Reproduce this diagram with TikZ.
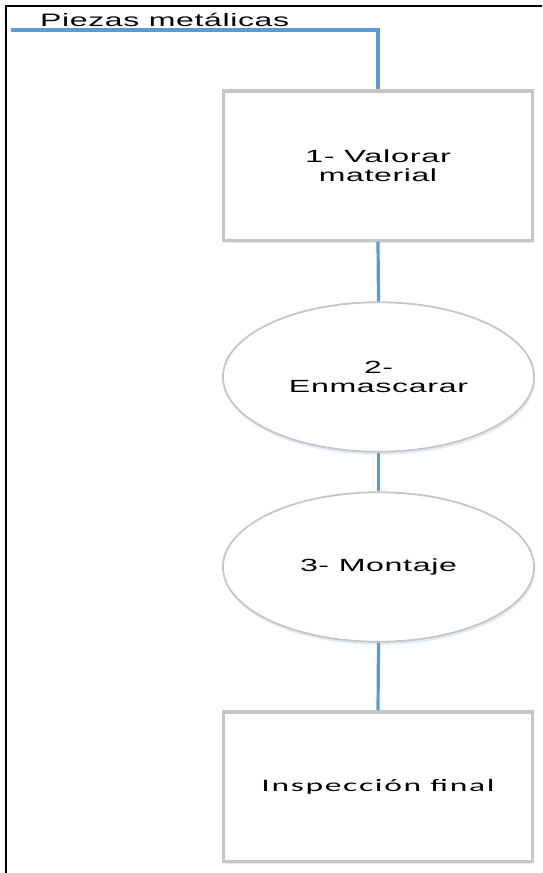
\documentclass[tikz,border=0pt]{standalone}
\usepackage{fontspec}
\usepackage{graphicx}
\usetikzlibrary{shapes.geometric,shadows}
\newfontfamily\labfont[LetterSpace=2]{Liberation Sans}
\newfontfamily\inspfont[LetterSpace=5]{Carlito}
% stretch one line of text to a given width, keeping its height
\newcommand\fitline[2]{\resizebox{#1}{\height}{#2}}
\definecolor{flowblue}{HTML}{5B9BD5}
\definecolor{shapegray}{HTML}{C6C6C6}
\definecolor{glow}{HTML}{D3E3F4}
\tikzset{
  conn/.style={draw=flowblue, line width=3.2pt},
  frameline/.style={draw=black, line width=2.4pt},
  softshadow/.style={drop shadow={shadow xshift=1pt, shadow yshift=-3pt, fill=glow, opacity=0.7}},
  stepbox/.style={rectangle, draw=shapegray, line width=3.2pt, fill=white,
    minimum width=308.8pt, minimum height=149.2pt, inner sep=0pt, softshadow},
  stepoval/.style={ellipse, draw=shapegray, line width=1.8pt, fill=white,
    minimum width=311.2pt, minimum height=149.5pt, inner sep=0pt, softshadow},
  bodytext/.style={font=\labfont\fontsize{17.6}{18.6}\selectfont, align=center, text=black},
}
\begin{document}
\begin{tikzpicture}[x=1pt, y=-1pt]
  \useasboundingbox (0,0) rectangle (542,873);
  % outer frame (top and left edges only)
  \draw[frameline] (542,6) -- (6,6) -- (6,873);

  % process steps
  \node[stepbox, bodytext] (b1) at (378,165.5) {\fitline{146pt}{1- Valorar}\\\fitline{118pt}{material}};
  \node[stepoval, bodytext] (e2) at (378.5,377) {\fitline{29pt}{2-}\\\fitline{179pt}{Enmascarar}};
  \node[stepoval, bodytext] (e3) at (378.5,567) {\fitline{157pt}{3- Montaje}};
  \node[stepbox, font=\inspfont\fontsize{17.5}{19}\selectfont] (b4) at (378,786.5) {\fitline{233pt}{Inspección final}};

  % input label and feed line
  \node[anchor=base west, inner sep=0pt, font=\labfont\fontsize{18}{19}\selectfont] (lab) at (40,26) {\fitline{249pt}{Piezas metálicas}};
  \coordinate (feed) at (11,30);
  \draw[conn] (feed) -| (b1.north);

  % connectors between steps
  \draw[conn] (b1.south) -- (e2.north);
  \draw[conn] (e2.south) -- (e3.north);
  \draw[conn] (e3.south) -- (b4.north);
\end{tikzpicture}
\end{document}
